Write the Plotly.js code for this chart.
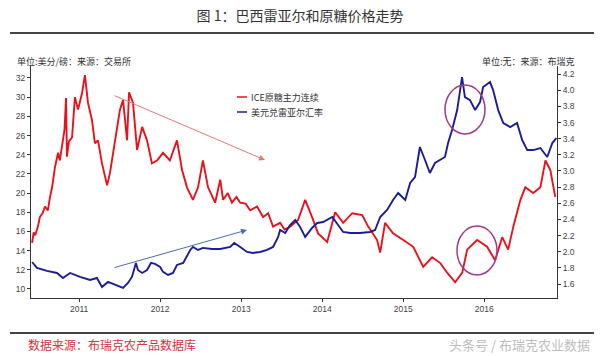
<!DOCTYPE html>
<html><head><meta charset="utf-8">
<script src="https://cdn.plot.ly/plotly-3.0.1.min.js"></script>
<style>html,body{margin:0;padding:0;background:#fff}#chart{width:600px;height:356px}</style>
</head><body><div id="chart"></div>
<script>
// ---- data ----
const seriesNames = ['ICE原糖主力连续', '美元兑雷亚尔汇率'];
const sugarDates = ['2010-06-03','2010-06-10','2010-06-17','2010-06-28','2010-07-08','2010-07-20','2010-07-31','2010-08-13','2010-08-22','2010-09-01','2010-09-14','2010-09-28','2010-10-06','2010-10-20','2010-10-27','2010-11-03','2010-11-07','2010-11-16','2010-11-30','2010-12-13','2010-12-27','2011-01-14','2011-01-27','2011-02-10','2011-02-28','2011-03-13','2011-03-27','2011-04-14','2011-05-07','2011-05-20','2011-06-12','2011-07-04','2011-07-18','2011-08-05','2011-08-14','2011-09-01','2011-09-19','2011-10-12','2011-11-03','2011-11-25','2011-12-18','2012-01-14','2012-02-14','2012-03-17','2012-04-09','2012-05-01','2012-05-28','2012-06-20','2012-07-12','2012-08-04','2012-09-05','2012-09-28','2012-10-11','2012-11-01','2012-11-20','2012-12-10','2012-12-27','2013-01-20','2013-02-10','2013-03-13','2013-04-09','2013-05-02','2013-05-24','2013-06-25','2013-07-15','2013-08-09','2013-09-14','2013-10-16','2013-11-16','2013-12-13','2014-01-23','2014-02-28','2014-04-05','2014-05-16','2014-06-30','2014-07-27','2014-09-05','2014-09-19','2014-10-11','2014-11-16','2015-01-01','2015-02-15','2015-04-01','2015-05-11','2015-06-17','2015-07-18','2015-08-23','2015-09-24','2015-10-16','2015-11-30','2016-01-14','2016-02-19','2016-03-22','2016-04-18','2016-05-11','2016-06-12','2016-07-04','2016-08-09','2016-09-10','2016-10-03','2016-10-25','2016-11-16'];
const sugarValues = [14.8,15.9,15.6,16.4,17.5,17.9,18.6,18.2,19.5,20.6,22.7,24.2,23.4,25.8,26.6,29.9,23.8,25.4,25.8,30.0,28.7,30.4,32.3,29.4,27.6,25.2,25.5,23.1,20.8,22.1,25.5,28.7,29.7,25.5,30.5,29.4,24.5,26.9,25.5,23.1,23.4,24.2,23.4,25.5,22.4,20.6,19.3,20.6,23.4,20.6,19.0,21.4,19.3,20.0,19.0,19.6,19.0,18.9,18.2,18.6,17.5,17.9,16.5,16.9,16.2,16.5,17.2,19.3,17.5,15.8,14.9,18.0,16.9,17.9,17.7,16.5,15.1,13.8,16.9,15.8,15.1,14.4,12.3,13.3,12.7,11.7,10.7,11.7,14.1,15.1,14.4,13.0,15.4,14.1,16.5,19.3,20.6,20.0,20.6,23.4,22.4,19.6];
const brlDates = ['2010-06-03','2010-06-25','2010-08-09','2010-09-23','2010-10-20','2010-11-21','2011-01-05','2011-02-19','2011-03-22','2011-04-14','2011-05-11','2011-06-12','2011-07-18','2011-08-09','2011-08-27','2011-09-14','2011-09-23','2011-10-12','2011-11-03','2011-11-21','2011-12-09','2012-01-01','2012-01-14','2012-02-06','2012-02-28','2012-03-17','2012-04-14','2012-05-16','2012-05-28','2012-06-20','2012-07-12','2012-08-22','2012-09-28','2012-11-12','2012-11-30','2012-12-27','2013-01-27','2013-02-23','2013-03-27','2013-04-27','2013-05-24','2013-06-16','2013-06-25','2013-07-18','2013-08-09','2013-09-01','2013-09-23','2013-10-16','2013-11-16','2013-12-09','2014-01-05','2014-02-15','2014-03-08','2014-04-05','2014-05-07','2014-06-21','2014-08-04','2014-08-27','2014-09-19','2014-10-20','2014-11-16','2014-12-09','2015-01-10','2015-02-01','2015-02-23','2015-03-17','2015-04-09','2015-05-01','2015-05-24','2015-06-17','2015-07-08','2015-07-22','2015-08-09','2015-09-01','2015-09-23','2015-10-06','2015-10-29','2015-11-21','2015-12-13','2015-12-27','2016-01-27','2016-02-10','2016-03-04','2016-03-27','2016-04-27','2016-05-28','2016-06-20','2016-07-13','2016-08-09','2016-09-10','2016-10-11','2016-11-03','2016-11-21'];
const brlValues = [1.873,1.799,1.762,1.737,1.675,1.737,1.688,1.650,1.675,1.564,1.626,1.589,1.551,1.613,1.688,1.861,1.774,1.737,1.774,1.861,1.849,1.811,1.750,1.712,1.737,1.836,1.861,2.022,2.059,2.022,2.047,2.034,2.034,2.059,2.108,2.059,1.997,1.985,1.997,2.022,2.059,2.183,2.269,2.232,2.331,2.393,2.307,2.183,2.294,2.356,2.368,2.430,2.356,2.245,2.232,2.232,2.245,2.269,2.430,2.517,2.641,2.727,2.641,2.851,2.925,3.297,3.136,2.975,3.099,3.136,3.173,3.346,3.507,3.754,4.163,3.915,3.878,3.754,3.853,4.039,4.101,4.002,3.754,3.594,3.544,3.594,3.383,3.259,3.259,3.284,3.173,3.346,3.408];
const yearTicks = ['2011-01-01','2012-01-01','2013-01-01','2014-01-01','2015-01-01','2016-01-01'];
const yearLabels = ['2011','2012','2013','2014','2015','2016'];
const leftTicks = [10,12,14,16,18,20,22,24,26,28,30,32];
const rightTicks = [1.6,1.8,2.0,2.2,2.4,2.6,2.8,3.0,3.2,3.4,3.6,3.8,4.0,4.2];

// ---- layout helpers (pixel -> paper) ----
const L = 31, R = 557, T = 66, B = 298;
const px = x => (x - L) / (R - L);
const py = y => (B - y) / (B - T);

const RED = '#e8121c', BLUE = '#1c1c96';
const CJK = '"Noto Sans CJK SC", "Noto Sans", sans-serif';
const tickFont = {family: 'Liberation Sans, Arial, sans-serif', size: 8.5, color: '#444'};

const traces = [
  {x: sugarDates, y: sugarValues, name: seriesNames[0], type: 'scatter', mode: 'lines',
   line: {color: RED, width: 1.9}, yaxis: 'y'},
  {x: brlDates, y: brlValues, name: seriesNames[1], type: 'scatter', mode: 'lines',
   line: {color: BLUE, width: 1.9}, yaxis: 'y2'}
];

const layout = {
  width: 600, height: 356,
  margin: {l: L, r: 600 - R, t: T, b: 356 - B, pad: 0},
  paper_bgcolor: '#fff', plot_bgcolor: '#fff',
  showlegend: false,
  title: {text: '图 1：巴西雷亚尔和原糖价格走势', x: 0.5, xref: 'container', xanchor: 'center',
          y: 1 - 16 / 356, yref: 'container', yanchor: 'middle',
          font: {family: CJK, size: 14, color: '#333'}},
  xaxis: {type: 'date', range: ['2010-05-29', '2016-11-24'], tickvals: yearTicks, ticktext: yearLabels,
          showgrid: false, zeroline: false, showline: true, linecolor: '#333', linewidth: 1,
          ticks: 'outside', ticklen: 3, tickcolor: '#333', tickfont: tickFont},
  yaxis: {range: [9.06, 33.25], tickvals: leftTicks, showgrid: false, zeroline: false,
          showline: true, linecolor: '#333', linewidth: 1, ticks: 'outside', ticklen: 3,
          tickcolor: '#333', tickfont: tickFont},
  yaxis2: {range: [1.427, 4.30], tickvals: rightTicks, tickformat: '.1f', overlaying: 'y', side: 'right',
           showgrid: false, zeroline: false, showline: true, linecolor: '#333', linewidth: 1,
           ticks: 'outside', ticklen: 3, tickcolor: '#333', tickfont: tickFont},
  shapes: [
    {type: 'line', xref: 'paper', yref: 'paper', x0: px(10), x1: px(594), y0: py(33), y1: py(33),
     line: {color: '#444', width: 2}},
    {type: 'line', xref: 'paper', yref: 'paper', x0: px(10), x1: px(594), y0: py(333), y1: py(333),
     line: {color: '#444', width: 2}},
    {type: 'line', xref: 'paper', yref: 'paper', x0: px(237), x1: px(247), y0: py(97), y1: py(97),
     line: {color: RED, width: 1.5}},
    {type: 'line', xref: 'paper', yref: 'paper', x0: px(237), x1: px(247), y0: py(112), y1: py(112),
     line: {color: BLUE, width: 1.5}},
    {type: 'circle', xref: 'paper', yref: 'paper', x0: px(445), x1: px(485), y0: py(134), y1: py(85),
     line: {color: '#a23a8e', width: 1.5}},
    {type: 'circle', xref: 'paper', yref: 'paper', x0: px(457), x1: px(497), y0: py(275), y1: py(226),
     line: {color: '#a23a8e', width: 1.5}}
  ],
  annotations: [
    {text: '单位:美分/磅：来源：交易所', xref: 'paper', yref: 'paper', x: px(15), y: py(61),
     xanchor: 'left', yanchor: 'middle', showarrow: false, font: {family: CJK, size: 9, color: '#333'}},
    {text: '单位:无：来源：布瑞克', xref: 'paper', yref: 'paper', x: px(577), y: py(61),
     xanchor: 'right', yanchor: 'middle', showarrow: false, font: {family: CJK, size: 9, color: '#333'}},
    {text: seriesNames[0], xref: 'paper', yref: 'paper', x: px(249), y: py(97),
     xanchor: 'left', yanchor: 'middle', showarrow: false, font: {family: CJK, size: 9, color: '#333'}},
    {text: seriesNames[1], xref: 'paper', yref: 'paper', x: px(249), y: py(112),
     xanchor: 'left', yanchor: 'middle', showarrow: false, font: {family: CJK, size: 9, color: '#333'}},
    {text: '', xref: 'paper', yref: 'paper', x: px(265), y: py(160), ax: 113 - 265, ay: 95 - 160,
     showarrow: true, arrowhead: 2, arrowsize: 1.2, arrowwidth: 1, arrowcolor: '#e07a78'},
    {text: '', xref: 'paper', yref: 'paper', x: px(247), y: py(230), ax: 113 - 247, ay: 268 - 230,
     showarrow: true, arrowhead: 2, arrowsize: 1.2, arrowwidth: 1, arrowcolor: '#4b6ea8'},
    {text: '数据来源：布瑞克农产品数据库', xref: 'paper', yref: 'paper', x: px(26), y: py(344),
     xanchor: 'left', yanchor: 'middle', showarrow: false, font: {family: CJK, size: 12, color: '#d8323c'}},
    {text: '头条号 / 布瑞克农业数据', xref: 'paper', yref: 'paper', x: px(592), y: py(344),
     xanchor: 'right', yanchor: 'middle', showarrow: false, font: {family: CJK, size: 13, color: '#bdbdbd'}}
  ]
};

Plotly.newPlot('chart', traces, layout, {staticPlot: true, displayModeBar: false});
</script>
</body></html>
